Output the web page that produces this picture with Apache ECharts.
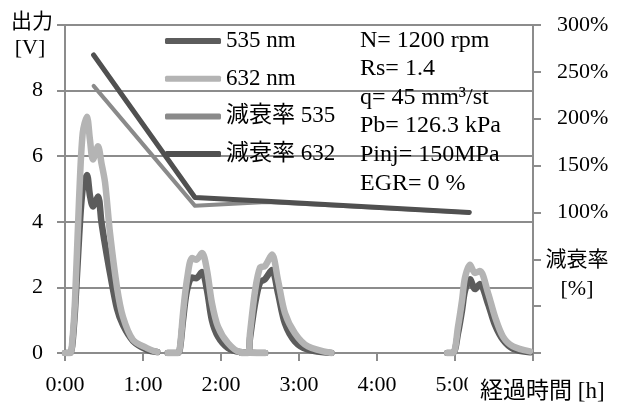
<!DOCTYPE html>
<html>
<head>
<meta charset="utf-8">
<script src="https://cdn.jsdelivr.net/npm/echarts@6/dist/echarts.min.js"></script>
<style>
  html, body { margin: 0; padding: 0; background: #fff; }
  #chart { width: 617px; height: 407px; }
</style>
</head>
<body>
<div id="chart"></div>
<script>
// time in minutes, output in V
var p1Time = [0, 4, 5.5, 7.7, 10.8, 13.6, 16.9, 19.2, 21.5, 25.4, 28, 30.8, 34.6, 40, 44.6, 52.3, 63, 71];
var p1V535 = [0, 0, 0.2, 1.3, 3.5, 5.0, 5.43, 4.8, 4.47, 4.77, 4.0, 3.3, 2.44, 1.35, 0.85, 0.37, 0.1, 0.03];
var p1V632 = [0, 0, 0.3, 1.6, 4.67, 6.7, 7.2, 6.5, 5.9, 6.3, 5.8, 5.2, 3.66, 2.0, 1.1, 0.4, 0.15, 0.03];

var p2Time = [79, 87, 88.5, 90.8, 93.8, 97.7, 100.8, 105.4, 109.2, 113, 117.7, 125.4, 134.6, 154];
var p2V535 = [0, 0, 0.15, 1.0, 1.9, 2.3, 2.28, 2.47, 1.92, 1.0, 0.5, 0.15, 0.03, 0];
var p2V632 = [0, 0, 0.2, 1.22, 2.23, 2.9, 2.84, 3.05, 2.53, 1.53, 0.8, 0.3, 0.03, 0];

var p3Time = [136, 140.8, 142.3, 146.2, 150, 153.8, 159.2, 163.8, 169.2, 176.9, 186.9, 205];
var p3V535 = [0, 0, 0.45, 1.5, 2.15, 2.25, 2.53, 1.83, 0.9, 0.35, 0.1, 0];
var p3V632 = [0, 0, 0.6, 1.9, 2.6, 2.65, 3.0, 2.23, 1.22, 0.6, 0.2, 0];

var p4Time = [294, 298.5, 302.3, 305.4, 307.7, 311.5, 315.4, 319.2, 325.4, 330.8, 336.9, 344.6, 357.7];
var p4V535 = [0, 0, 0.6, 1.3, 1.9, 2.25, 1.95, 2.1, 1.5, 0.85, 0.4, 0.13, 0.02];
var p4V632 = [0, 0, 0.8, 1.6, 2.3, 2.69, 2.44, 2.5, 1.83, 1.1, 0.5, 0.2, 0.05];

// 減衰率 [%]
var decayTime = [22, 100, 155, 311];
var decay535 = [235, 107, 111, 100];
var decay632 = [268, 116, 112, 100];

var legendNames = ['535 nm', '632 nm', '減衰率 535', '減衰率 632'];
var infoLines = ['N= 1200 rpm', 'Rs= 1.4', 'q= 45 mm³/st', 'Pb= 126.3 kPa', 'Pinj= 150MPa', 'EGR= 0 %'];

var FONT = '"Liberation Serif", "Noto Sans CJK JP", serif';
var GRID_COLOR = '#8c8c8c';

function pts(t, v) {
    return t.map(function (x, i) { return [x, v[i]]; });
}

var pulses = [[p1Time, p1V535, p1V632], [p2Time, p2V535, p2V632],
              [p3Time, p3V535, p3V632], [p4Time, p4V535, p4V632]];

function signalSeries(name, color, idx) {
    return pulses.map(function (p) {
        return {
            name: name,
            type: 'line',
            color: color,
            data: pts(p[0], p[idx]),
            showSymbol: false,
            smooth: 0.3,
            lineStyle: {width: 6.5, color: color, cap: 'round', join: 'round'}
        };
    });
}

function decaySeries(name, color, width, values) {
    return {
        name: name,
        type: 'line',
        yAxisIndex: 1,
        color: color,
        data: pts(decayTime, values),
        showSymbol: false,
        lineStyle: {width: width, color: color, cap: 'round', join: 'round'}
    };
}

var series = []
    .concat(signalSeries('535 nm', '#5c5c5c', 1))
    .concat(signalSeries('632 nm', '#b4b4b4', 2))
    .concat([decaySeries('減衰率 535', '#8a8a8a', 4, decay535),
             decaySeries('減衰率 632', '#505050', 5, decay632)]);

var myChart = echarts.init(document.getElementById('chart'));
myChart.setOption({
    animation: false,
    backgroundColor: '#fff',
    textStyle: {fontFamily: FONT},
    grid: {left: 65, right: 84, top: 25, bottom: 54, outerBoundsMode: 'none'},
    legend: {
        show: true,
        data: legendNames,
        orient: 'vertical',
        left: 160,
        top: 24,
        icon: 'roundRect',
        itemWidth: 56,
        itemHeight: 6,
        itemGap: 13.7,
        selectedMode: false,
        textStyle: {fontFamily: FONT, fontSize: 23, color: '#000', lineHeight: 24}
    },
    xAxis: {
        type: 'value',
        min: 0,
        max: 360,
        interval: 60,
        axisLine: {show: true, lineStyle: {color: GRID_COLOR, width: 2}},
        axisTick: {show: true, length: 8, lineStyle: {color: GRID_COLOR, width: 2}},
        splitLine: {show: false},
        axisLabel: {
            margin: 21,
            fontFamily: FONT,
            fontSize: 22,
            color: '#000',
            formatter: function (v) { return v >= 360 ? '' : (v / 60) + ':00'; }
        }
    },
    yAxis: [
        {
            type: 'value',
            min: 0,
            max: 10,
            interval: 2,
            axisLine: {show: true, lineStyle: {color: GRID_COLOR, width: 2}},
            axisTick: {show: true, length: 8, lineStyle: {color: GRID_COLOR, width: 2}},
            splitLine: {show: true, lineStyle: {color: GRID_COLOR, width: 2}},
            axisLabel: {
                margin: 22,
                fontFamily: FONT,
                fontSize: 22,
                color: '#000',
                formatter: function (v) { return v >= 10 ? '' : String(v); }
            }
        },
        {
            type: 'value',
            min: -50,
            max: 300,
            interval: 50,
            position: 'right',
            axisLine: {show: true, lineStyle: {color: GRID_COLOR, width: 2}},
            axisTick: {show: true, length: 8, lineStyle: {color: GRID_COLOR, width: 2}},
            splitLine: {show: false},
            axisLabel: {
                margin: 24,
                fontFamily: FONT,
                fontSize: 22,
                color: '#000',
                formatter: function (v) { return v >= 100 ? v + '%' : ''; }
            }
        }
    ],
    graphic: [
        {type: 'text', z: 100, style: {text: '出力', x: 32, y: 22, font: '21px ' + FONT, fill: '#000', align: 'center', verticalAlign: 'middle', textAlign: 'center', textVerticalAlign: 'middle'}},
        {type: 'text', z: 100, style: {text: '[V]', x: 30, y: 48, font: '22px ' + FONT, fill: '#000', align: 'center', verticalAlign: 'middle', textAlign: 'center', textVerticalAlign: 'middle'}},
        {type: 'text', z: 100, style: {text: '減衰率', x: 577, y: 260, font: '21px ' + FONT, fill: '#000', align: 'center', verticalAlign: 'middle', textAlign: 'center', textVerticalAlign: 'middle'}},
        {type: 'text', z: 100, style: {text: '[%]', x: 577, y: 289, font: '22px ' + FONT, fill: '#000', align: 'center', verticalAlign: 'middle', textAlign: 'center', textVerticalAlign: 'middle'}},
        {type: 'rect', z: 100, shape: {x: 468, y: 372, width: 149, height: 32}, style: {fill: '#fff'}},
        {type: 'text', z: 101, style: {text: '経過時間 [h]', x: 480, y: 392, font: '23px ' + FONT, fill: '#000', align: 'left', verticalAlign: 'middle', textAlign: 'left', textVerticalAlign: 'middle'}},
        {type: 'text', z: 100, style: {text: infoLines.join('\n'), x: 360, y: 26, font: '24px ' + FONT, lineHeight: 28.6, fill: '#000', align: 'left', verticalAlign: 'top', textAlign: 'left', textVerticalAlign: 'top'}}
    ],
    series: series
});
</script>
</body>
</html>
